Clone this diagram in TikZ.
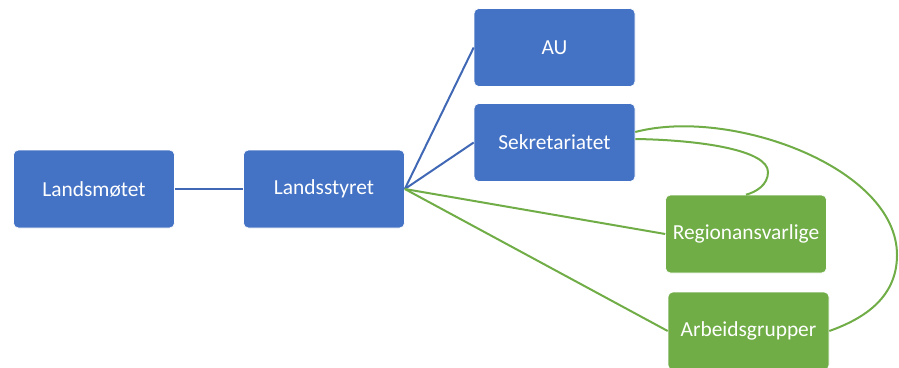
\documentclass[tikz,border=0pt]{standalone}
\usepackage{fontspec}
\setmainfont{Carlito}
\usepackage{tikz}

\definecolor{boxblue}{HTML}{4472C4}
\definecolor{boxgreen}{HTML}{70AD47}
\definecolor{lineblue}{HTML}{4068B4}

\begin{document}
\begin{tikzpicture}[x=1bp, y=1bp,
    unit/.style={rectangle, rounded corners=5bp, draw=white, line width=0.6bp,
        minimum width=161bp, minimum height=78bp, text=white,
        font=\fontsize{21.5}{25}\selectfont},
    blueunit/.style={unit, fill=boxblue},
    greenunit/.style={unit, fill=boxgreen},
    blueline/.style={draw=lineblue, line width=2bp},
    greenline/.style={draw=boxgreen, line width=2bp}]
    \useasboundingbox (0,0) rectangle (899,367);
    \node[blueunit] (moete) at (94,178) {Landsmøtet};
    \node[blueunit] (styre) at (324,178) {Landsstyret};
    \node[blueunit] (au) at (554.5,319.5) {AU};
    \node[blueunit] (sekr) at (554.5,224.5) {Sekretariatet};
    \node[greenunit] (region) at (746,133) {Regionansvarlige};
    \node[greenunit] (arbeid) at (748.5,36) {Arbeidsgrupper};
    \draw[blueline] (moete.east) -- (styre.west);
    \draw[blueline] (styre.east) -- (au.west);
    \draw[blueline] (styre.east) -- (sekr.west);
    \draw[greenline] (styre.east) -- (region.west);
    \draw[greenline] (styre.east) -- (arbeid.west);
    \draw[greenline] ([yshift=10.5bp]sekr.east)
        .. controls (730,260) and (897,200) .. (897,112)
        .. controls (897,67) and (860,47) .. (arbeid.east);
    \draw[greenline] ([yshift=3.5bp]sekr.east)
        .. controls (700,227) and (768,217) .. (768,195)
        .. controls (768,182) and (756,175) .. (region.north);
\end{tikzpicture}
\end{document}
